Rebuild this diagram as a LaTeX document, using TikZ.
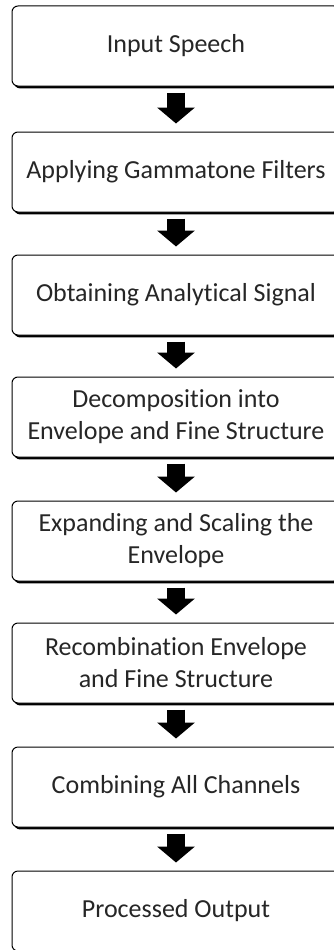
\documentclass[tikz,border=0pt]{standalone}
\usepackage{fontspec}
\setmainfont[Ligatures=NoCommon]{Carlito}
\usetikzlibrary{calc,shadows,arrows.meta}
\begin{document}
\begin{tikzpicture}[x=1pt,y=-1pt,
  stepbox/.style={draw=black, line width=1pt, fill=white, rounded corners=6pt,
    minimum width=328pt, minimum height=80pt, inner sep=0pt, align=center,
    text=black!85, font=\fontsize{26}{32}\selectfont,
    drop shadow={shadow xshift=2pt, shadow yshift=-2.4pt, fill=black, opacity=1}},
  blockarrow/.style={line width=18pt, draw=black,
    -{Triangle[width=37pt,length=16pt]}}]
\useasboundingbox (0,0) rectangle (334,950);
\clip (0,0) rectangle (334,950);
\fill[white] (0,0) rectangle (334,950);
\node[stepbox] (b1) at (176,46) {Input Speech};
\node[stepbox] (b2) at (176,172) {Applying Gammatone Filters};
\node[stepbox] (b3) at (176,295) {Obtaining Analytical Signal};
\node[stepbox] (b4) at (176,417) {Decomposition into\\Envelope and Fine Structure};
\node[stepbox] (b5) at (176,541) {Expanding and Scaling the\\Envelope};
\node[stepbox] (b6) at (176,663) {Recombination Envelope\\and Fine Structure};
\node[stepbox] (b7) at (176,787) {Combining All Channels};
\node[stepbox] (b8) at (176,911) {Processed Output};
\foreach \a/\b in {b1/b2,b2/b3,b3/b4,b4/b5,b5/b6,b6/b7,b7/b8}{
  \draw[blockarrow] ($(\a.south)+(0,6)$) -- ($(\b.north)+(0,-8)$);
}
\end{tikzpicture}
\end{document}
